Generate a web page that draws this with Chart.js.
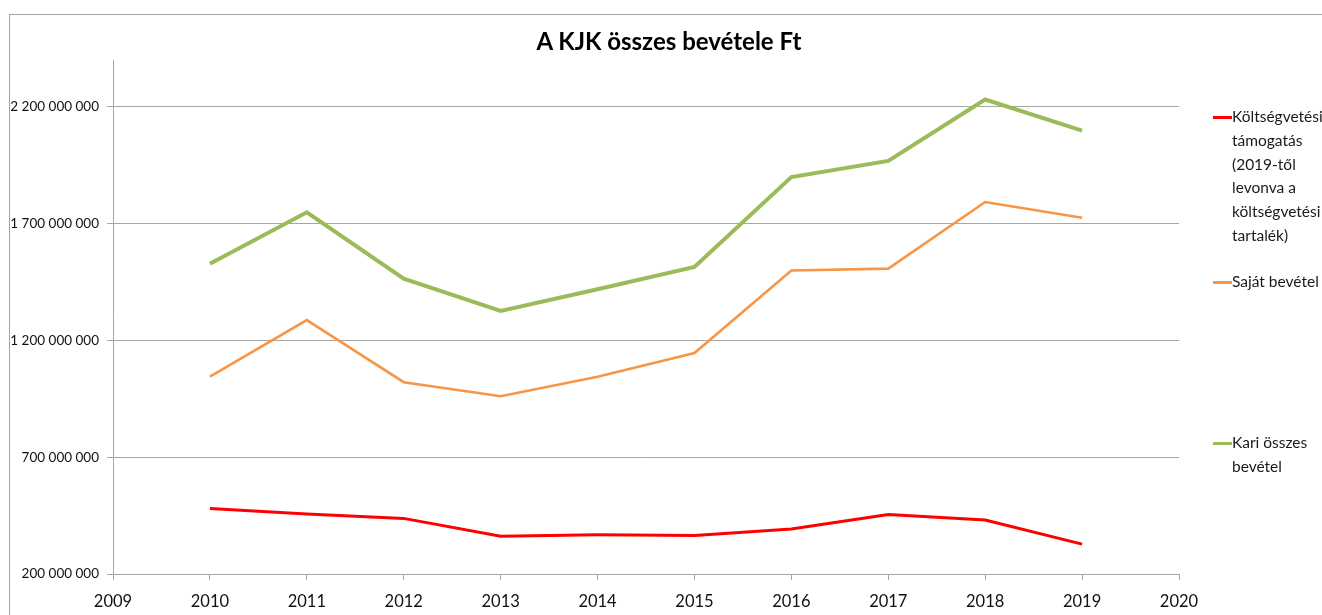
<!DOCTYPE html>
<html>
<head>
<meta charset="utf-8">
<script src="https://cdn.jsdelivr.net/npm/chart.js@4"></script>
<style>
  html, body { margin: 0; padding: 0; background: #fff; overflow: hidden; }
  #wrap { position: relative; width: 1322px; height: 615px; }
  #frame {
    position: absolute; left: 9px; top: 14px; width: 1400px; height: 700px;
    border: 1px solid #a3a3a3;
  }
  canvas { position: absolute; left: 0; top: 0; }
  .title {
    position: absolute; left: 669px; top: 26px; transform: translateX(-50%);
    font: bold 24px Lato, sans-serif; color: #000; white-space: nowrap;
  }
  .legend-item { position: absolute; left: 1213px; }
  .legend-item .swatch { position: absolute; left: 0; width: 19px; height: 3px; }
  .legend-item .text {
    position: absolute; left: 19px; white-space: nowrap;
    font: 15.5px Lato, sans-serif; line-height: 23.8px; color: #1a1a1a;
  }
</style>
</head>
<body>
<div id="wrap">
  <div id="frame"></div>
  <canvas id="chart" width="1322" height="615"></canvas>
  <div class="title">A KJK összes bevétele Ft</div>
  <div id="legend"></div>
</div>
<script>
/* ===== A KJK összes bevétele ===== */

const YEARS = [2010, 2011, 2012, 2013, 2014, 2015, 2016, 2017, 2018, 2019];

const KOLTSEGVETESI = [480000000, 457000000, 438000000, 362000000, 368000000,
                       365000000, 393000000, 455000000, 431000000, 328000000];
const SAJAT = [1045000000, 1287000000, 1021000000, 961000000, 1044000000,
               1146000000, 1499000000, 1507000000, 1792000000, 1725000000];
const KARI = [1528000000, 1748000000, 1464000000, 1326000000, 1419000000,
              1514000000, 1899000000, 1968000000, 2231000000, 2098000000];

const Y_TICKS = [200000000, 700000000, 1200000000, 1700000000, 2200000000];
const X_MIN = 2009;
const X_MAX = 2020;

const SERIES = [
  { label: ['Költségvetési', 'támogatás', '(2019-től', 'levonva a', 'költségvetési', 'tartalék)'],
    values: KOLTSEGVETESI, color: '#ff0000', width: 3, legendY: 117 },
  { label: ['Saját bevétel'], values: SAJAT, color: '#f79646', width: 2.6, legendY: 282 },
  { label: ['Kari összes', 'bevétel'], values: KARI, color: '#9bbb59', width: 4, legendY: 443 },
];

function formatFt(v) {
  return String(v).replace(/\B(?=(\d{3})+(?!\d))/g, ' ');
}

/* ---------- Legend (HTML) ---------- */

function renderLegend() {
  const box = document.getElementById('legend');
  SERIES.forEach(s => {
    const item = document.createElement('div');
    item.className = 'legend-item';
    item.style.top = s.legendY + 'px';
    item.innerHTML = `
      <div class="swatch" style="top:-1.5px;background:${s.color}"></div>
      <div class="text" style="top:-12px">${s.label.join('<br>')}</div>
    `;
    box.appendChild(item);
  });
}

/* ---------- Chart ---------- */

const GRID = '#a6a6a6';

new Chart(document.getElementById('chart'), {
  type: 'line',
  data: {
    datasets: SERIES.map(s => ({
      label: s.label.join(' '),
      data: YEARS.map((y, i) => ({ x: y, y: s.values[i] })),
      borderColor: s.color,
      backgroundColor: s.color,
      borderWidth: s.width,
      pointRadius: 0,
      tension: 0,
      fill: false,
    })),
  },
  options: {
    responsive: false,
    animation: false,
    layout: { padding: { top: 60, right: 143, left: 0, bottom: 0 } },
    scales: {
      x: {
        type: 'linear',
        min: X_MIN,
        max: X_MAX,
        ticks: {
          stepSize: 1,
          padding: 12,
          color: '#111',
          font: { family: 'Lato', size: 16.5 },
          callback: v => String(v),
        },
        grid: { drawOnChartArea: false, color: GRID, tickLength: 6 },
        border: { color: GRID },
        afterFit: scale => { scale.height = 41; },
      },
      y: {
        min: 200000000,
        max: 2400000000,
        afterBuildTicks: scale => { scale.ticks = Y_TICKS.map(v => ({ value: v })); },
        ticks: {
          padding: 8,
          color: '#111',
          font: { family: 'Lato', size: 13.5 },
          callback: v => formatFt(v),
        },
        grid: { color: GRID, tickLength: 6 },
        border: { color: GRID },
        afterFit: scale => { scale.width = 113; },
      },
    },
    plugins: {
      legend: { display: false },
      tooltip: { enabled: false },
    },
  },
});

renderLegend();
</script>
</body>
</html>
